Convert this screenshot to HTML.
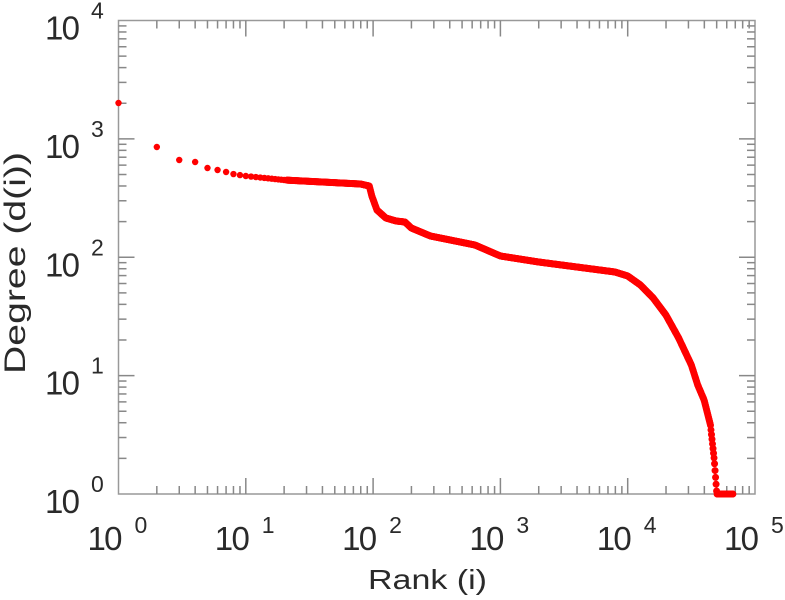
<!DOCTYPE html>
<html><head><meta charset="utf-8"><style>
html,body{margin:0;padding:0;background:#fff;width:785px;height:600px;overflow:hidden}
svg text{font-family:"Liberation Sans",sans-serif;fill:#2a2a2a}
</style></head><body>
<svg id="s" width="785" height="600" xmlns="http://www.w3.org/2000/svg">
<rect x="118.5" y="20.5" width="636.5" height="473.5" fill="none" stroke="#999" stroke-width="1.5"/>
<g id="ticks" stroke="#888" stroke-width="1.5"></g>
<g id="pts" fill="#ff0000"></g>
<g id="lbl"></g>
<text x="368" y="589" font-size="28" textLength="119" lengthAdjust="spacingAndGlyphs">Rank (i)</text>
<text transform="translate(25,263) rotate(-90)" font-size="30" text-anchor="middle" textLength="222" lengthAdjust="spacingAndGlyphs">Degree (d(i))</text>
</svg>
<script>
var L=118.5,R=755,T=20.5,B=494,dx=(R-L)/5,dy=(B-T)/4,NS="http://www.w3.org/2000/svg";
function el(p,n,a,t){var e=document.createElementNS(NS,n);for(var k in a)e.setAttribute(k,a[k]);if(t!==undefined)e.textContent=t;p.appendChild(e);return e;}
var tk=document.getElementById('ticks');
for(var d=0;d<5;d++)for(var m=1;m<10;m++){var x=L+(d+Math.log10(m))*dx,l=m==1?16:8;if(d==0&&m==1)continue;
el(tk,'line',{x1:x,y1:B,x2:x,y2:B-l});el(tk,'line',{x1:x,y1:T,x2:x,y2:T+l});}
for(var d=0;d<4;d++)for(var m=1;m<10;m++){var y=B-(d+Math.log10(m))*dy,l=m==1?16:8;if(d==0&&m==1)continue;
el(tk,'line',{x1:L,y1:y,x2:L+l,y2:y});el(tk,'line',{x1:R,y1:y,x2:R-l,y2:y});}
var lb=document.getElementById('lbl');
for(var d=0;d<=5;d++){var x=L+d*dx;
el(lb,'text',{x:x-31,y:550,'font-size':'33',textLength:'35',lengthAdjust:'spacing'},'10');
el(lb,'text',{x:x+16,y:533,'font-size':'23'},''+d);}
for(var d=0;d<=4;d++){var y=B-d*dy;
el(lb,'text',{x:45,y:y+19,'font-size':'33',textLength:'35',lengthAdjust:'spacing'},'10');
el(lb,'text',{x:91,y:y-2,'font-size':'23'},''+d);}
var K=[[0,103],[0.301,147],[0.477,160],[0.602,162],[0.699,168],[0.778,170],[0.845,172],[0.9,174],[1,176],[1.3,180],[1.6,182],[1.9,184],[1.97,186],[1.99,196],[2.03,210],[2.1,218],[2.18,221],[2.25,222],[2.3,228],[2.45,236],[2.8,245],[3.0,256],[3.3,262],[3.6,267],[3.9,272],[4.0,276],[4.1,285],[4.2,298],[4.3,315],[4.4,338],[4.5,365],[4.55,385],[4.6,400],[4.65,425],[4.68,460],[4.7,494],[4.83,494]];
function f(u){for(var i=1;i<K.length;i++)if(u<=K[i][0]){var a=K[i-1],b=K[i];return a[1]+(b[1]-a[1])*(u-a[0])/(b[0]-a[0]);}return 494;}
var P=document.getElementById('pts');
for(var r=1;r<=20;r++){var u=Math.log10(r);el(P,'circle',{cx:L+u*dx,cy:f(u),r:3.2});}
for(var u=Math.log10(21);u<=4.83;u+=0.004){el(P,'circle',{cx:L+u*dx,cy:f(u),r:3.5});}
</script>
</body></html>
